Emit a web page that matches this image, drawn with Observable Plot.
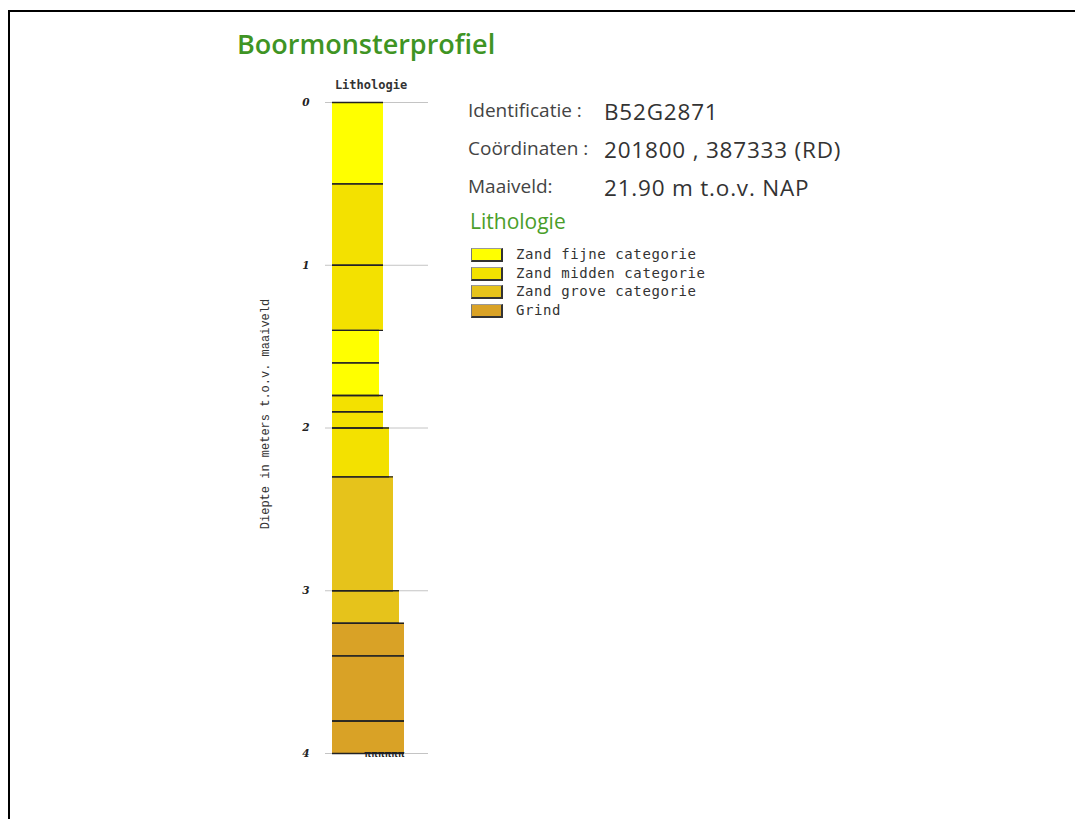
<!DOCTYPE html>
<html>
<head>
<meta charset="utf-8">
<script src="https://cdn.jsdelivr.net/npm/d3@7"></script>
<script src="https://cdn.jsdelivr.net/npm/@observablehq/plot@0.6"></script>
<style>
  html, body { margin: 0; padding: 0; background: #fff; overflow: hidden; width: 1075px; height: 819px; }
  #frame { position: absolute; left: 8px; top: 10px; width: 1200px; height: 1000px; border-left: 2px solid #000; border-top: 2px solid #000; }
  .abs { position: absolute; white-space: nowrap; line-height: 1; }
  #title { left: 237px; top: 30px; font-family: "Open Sans", sans-serif; font-weight: 600; font-size: 27px; color: #3f9424; }
  .lbl { font-family: "Open Sans", sans-serif; font-size: 19px; color: #444; }
  .val { font-family: "Open Sans", sans-serif; font-size: 22.5px; color: #333; letter-spacing: 0.8px; }
  #lith { left: 470px; top: 211px; font-family: "Open Sans", sans-serif; font-size: 21px; color: #4a9e2a; }
  .leg { position: absolute; left: 471px; height: 18px; white-space: nowrap; }
  .sw { position: absolute; left: 0; top: 0; width: 29px; height: 11px; border-right: 2px solid #333; border-bottom: 2px solid #333; border-left: 1px solid #777; border-top: 1px solid #999; }
  .lt { position: absolute; left: 45px; top: -1px; font-family: "DejaVu Sans Mono", monospace; font-size: 14px; letter-spacing: 0.6px; color: #333; line-height: 14px; }
  #chart { position: absolute; left: 0; top: 0; }
</style>
</head>
<body>
<div id="frame"></div>
<div id="title" class="abs">Boormonsterprofiel</div>
<div id="info"></div>
<div id="lith" class="abs">Lithologie</div>
<div id="legend"></div>
<div id="chart"></div>
<script>
// ---- data ----
const layerTop    = [0, 0.5, 1.0, 1.4, 1.6, 1.8, 1.9, 2.0, 2.3, 3.0, 3.2, 3.4, 3.8];
const layerBottom = [0.5, 1.0, 1.4, 1.6, 1.8, 1.9, 2.0, 2.3, 3.0, 3.2, 3.4, 3.8, 4.0];
const layerType   = ["Zand fijne categorie", "Zand midden categorie", "Zand midden categorie",
                     "Zand fijne categorie", "Zand fijne categorie", "Zand midden categorie",
                     "Zand midden categorie", "Zand midden categorie", "Zand grove categorie",
                     "Zand grove categorie", "Grind", "Grind", "Grind"];
const layerWidth  = [51, 51, 51, 47, 47, 51, 51, 57, 61, 67, 72, 72, 72];
const categories  = ["Zand fijne categorie", "Zand midden categorie", "Zand grove categorie", "Grind"];
const catColors   = ["#ffff00", "#f3e100", "#e6c31b", "#d9a226"];
const depthTicks  = [0, 1, 2, 3, 4];
const infoLabels  = ["Identificatie :", "Coördinaten :", "Maaiveld:"];
const infoValues  = ["B52G2871", "201800 , 387333 (RD)", "21.90 m t.o.v. NAP"];

const layers = layerTop.map((t, i) => ({top: t, bottom: layerBottom[i], type: layerType[i], w: layerWidth[i]}));

// ---- info block ----
const info = document.getElementById("info");
const rowTops = [101, 139, 177];
infoLabels.forEach((l, i) => {
  const a = document.createElement("div");
  a.className = "abs lbl"; a.textContent = l;
  a.style.left = "468px"; a.style.top = rowTops[i] + "px";
  info.appendChild(a);
  const b = document.createElement("div");
  b.className = "abs val"; b.textContent = infoValues[i];
  b.style.left = "604px"; b.style.top = (rowTops[i] + 0) + "px";
  info.appendChild(b);
});

// ---- legend ----
const legend = document.getElementById("legend");
categories.forEach((c, i) => {
  const row = document.createElement("div");
  row.className = "leg";
  row.style.top = (248 + i * 18.5) + "px";
  const sw = document.createElement("div");
  sw.className = "sw"; sw.style.background = catColors[i];
  const t = document.createElement("div");
  t.className = "lt"; t.textContent = c;
  row.appendChild(sw); row.appendChild(t);
  legend.appendChild(row);
});

// ---- chart ----
const color = {domain: categories, range: catColors};
const chart = Plot.plot({
  width: 440,
  height: 790,
  marginTop: 102,
  marginBottom: 37,
  marginLeft: 325,
  marginRight: 12,
  x: {domain: [-7, 96], axis: null},
  y: {domain: [0, 4], reverse: true, axis: null},
  color,
  marks: [
    Plot.gridY(depthTicks, {stroke: "#c4c4c4", strokeOpacity: 1, strokeWidth: 1}),
    Plot.rect(layers, {x1: 0, x2: "w", y1: "top", y2: "bottom", fill: "type"}),
    Plot.ruleY(layers, {y: "top", x1: 0, x2: "w", stroke: "#222", strokeWidth: 1.4}),
    Plot.ruleY(layers, {y: "bottom", x1: 0, x2: "w", stroke: "#222", strokeWidth: 1.4}),
    Plot.axisY(depthTicks, {tickSize: 0, tickPadding: 16, label: null, fontSize: 10.5, tickFormat: d => String(d),
      fontStyle: "italic", fontWeight: "bold", fontFamily: "DejaVu Serif", fill: "#222", ariaLabel: "ytick"}),
    Plot.text(["Diepte in meters t.o.v. maaiveld"], {frameAnchor: "middle", rotate: -90, dx: -112, dy: -14,
      fontFamily: "Liberation Mono", fontSize: 12, fill: "#333", ariaLabel: "ylabel"}),
    Plot.text(["Lithologie"], {frameAnchor: "top", dx: -6, dy: -22, fontFamily: "DejaVu Sans Mono",
      fontWeight: "bold", fontSize: 12, fill: "#333", ariaLabel: "colhead"}),
    Plot.text(layers.slice(-1), {x: "w", y: "bottom", text: () => "ππππππ", textAnchor: "end", lineAnchor: "top",
      dy: -3, fontSize: 9, fontWeight: "bold", fill: "#222", ariaLabel: "bottommark"})
  ]
});
d3.select(chart).selectAll("[aria-label=colhead] text").style("letter-spacing", "0.3px");
d3.select(chart).style("overflow", "visible");
document.getElementById("chart").appendChild(chart);
</script>
</body>
</html>
